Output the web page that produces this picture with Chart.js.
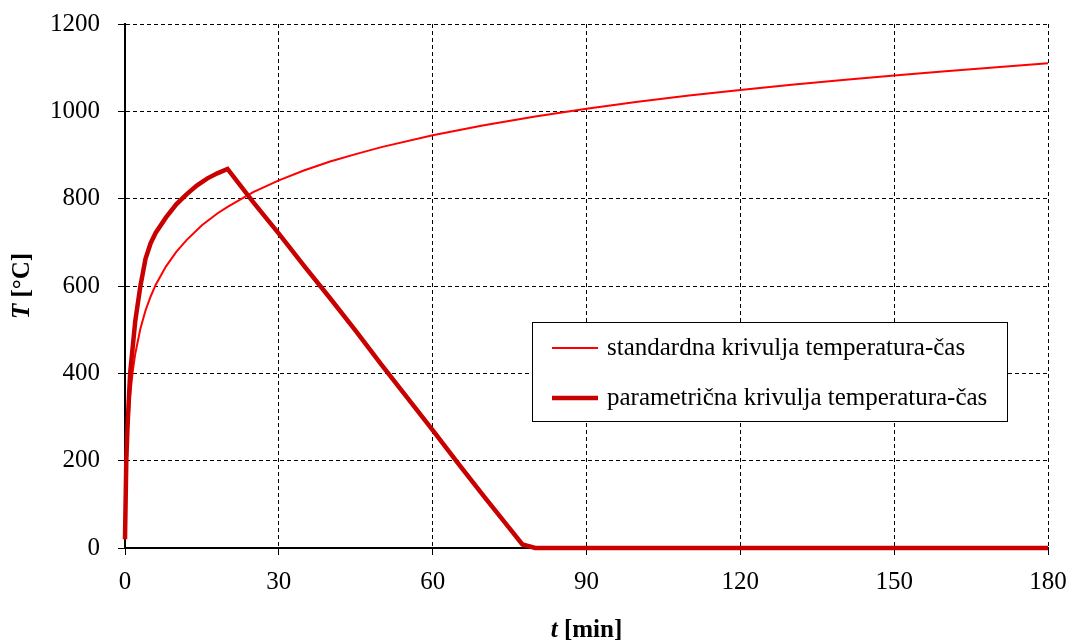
<!DOCTYPE html>
<html>
<head>
<meta charset="utf-8">
<script src="https://cdn.jsdelivr.net/npm/chart.js@4/dist/chart.umd.min.js"></script>
<style>
  html, body { margin: 0; padding: 0; background: #fff; }
  #wrap { width: 1069px; height: 643px; }
</style>
</head>
<body>
<div id="wrap"><canvas id="fireCurves"></canvas></div>
<script>
// standard fire curve (time in min, temperature in °C)
const stdTime = [0, 0.5, 1, 1.5, 2, 3, 4, 5, 6, 8, 10, 12, 15, 18, 20, 25, 30, 35, 40, 45, 50,
                 60, 70, 80, 90, 100, 110, 120, 130, 140, 150, 160, 170, 180];
const stdTemp = [20, 261, 349, 404, 445, 502, 544, 576, 603, 645, 678, 705, 739, 766, 781, 815, 842, 865, 885, 902, 918,
                 945, 968, 988, 1006, 1022, 1036, 1049, 1061, 1072, 1082, 1092, 1101, 1110];

// parametric fire curve
const parTime = [0, 0.25, 0.5, 1, 2, 3, 4, 5, 6, 8, 10, 12, 14, 16, 18, 20,
                 25, 30, 35, 40, 45, 50, 55, 60, 65, 70, 75, 77.5, 80, 180];
const parTemp = [20, 200, 280, 400, 520, 600, 662, 698, 722, 757, 787, 810, 830, 846, 858, 868,
                 792, 720, 645, 572, 497, 420, 345, 270, 193, 118, 45, 8, 0, 0];

const labels = ['standardna krivulja temperatura-čas', 'parametrična krivulja temperatura-čas'];
const xTicks = [0, 30, 60, 90, 120, 150, 180];
const yTicks = [0, 200, 400, 600, 800, 1000, 1200];

const toPoints = (xs, ys) => xs.map((x, i) => ({ x: x, y: ys[i] }));

const serif = '"Liberation Serif", "Times New Roman", serif';

// keep the plot box fixed: no extra room for overhanging tick labels
const noOverhang = (scale) => {
  scale.paddingTop = 0;
  scale.paddingBottom = 0;
  scale.paddingLeft = 0;
  scale.paddingRight = 0;
};

// axis titles with an italic variable symbol
const axisTitles = {
  id: 'axisTitles',
  afterDraw(chart) {
    const { ctx, chartArea } = chart;
    const part = (sym, rest, cx, cy, rot) => {
      ctx.save();
      ctx.translate(cx, cy);
      ctx.rotate(rot);
      ctx.fillStyle = '#000';
      ctx.textBaseline = 'middle';
      ctx.textAlign = 'left';
      ctx.font = 'italic bold 25px ' + serif;
      const w1 = ctx.measureText(sym).width;
      ctx.font = 'bold 25px ' + serif;
      const w2 = ctx.measureText(rest).width;
      const x = -(w1 + w2) / 2;
      ctx.font = 'italic bold 25px ' + serif;
      ctx.fillText(sym, x, 0);
      ctx.font = 'bold 25px ' + serif;
      ctx.fillText(rest, x + w1, 0);
      ctx.restore();
    };
    part('T', ' [°C]', 23, (chartArea.top + chartArea.bottom) / 2, -Math.PI / 2);
    part('t', ' [min]', (chartArea.left + chartArea.right) / 2, 631, 0);
  }
};

// boxed legend inside the plot
const boxLegend = {
  id: 'boxLegend',
  afterDraw(chart) {
    const { ctx } = chart;
    const bx = 532, by = 322, bw = 475, bh = 99;
    ctx.save();
    ctx.fillStyle = '#fff';
    ctx.fillRect(bx, by, bw, bh);
    ctx.strokeStyle = '#000';
    ctx.lineWidth = 1;
    ctx.strokeRect(bx + 0.5, by + 0.5, bw, bh);
    ctx.font = '25px ' + serif;
    ctx.textBaseline = 'middle';
    ctx.fillStyle = '#000';
    const rows = [348, 398];
    chart.data.datasets.forEach((ds, i) => {
      const y = rows[i];
      ctx.strokeStyle = ds.borderColor;
      ctx.lineWidth = ds.borderWidth;
      ctx.beginPath();
      ctx.moveTo(552, y);
      ctx.lineTo(598, y);
      ctx.stroke();
      ctx.fillText(ds.label, 607, y);
    });
    ctx.restore();
  }
};

new Chart(document.getElementById('fireCurves'), {
  type: 'line',
  data: {
    datasets: [
      {
        label: labels[0],
        data: toPoints(stdTime, stdTemp),
        borderColor: '#ff0000',
        borderWidth: 2,
        pointRadius: 0,
        tension: 0,
        order: 1,
        clip: 6
      },
      {
        label: labels[1],
        data: toPoints(parTime, parTemp),
        borderColor: '#c80000',
        borderWidth: 4.5,
        pointRadius: 0,
        tension: 0,
        order: 0,
        clip: 6
      }
    ]
  },
  options: {
    responsive: true,
    maintainAspectRatio: false,
    animation: false,
    layout: { padding: { left: 0, top: 24, right: 21, bottom: 0 } },
    plugins: {
      legend: { display: false },
      tooltip: { enabled: false }
    },
    scales: {
      x: {
        type: 'linear',
        min: 0,
        max: 180,
        afterBuildTicks: (scale) => { scale.ticks = xTicks.map(v => ({ value: v })); },
        afterFit: (scale) => { scale.height = 95; noOverhang(scale); },
        ticks: {
          color: '#000',
          padding: 12,
          maxRotation: 0,
          callback: (v) => String(v),
          font: { family: serif, size: 25 }
        },
        grid: { color: '#000', lineWidth: 1, tickLength: 7 },
        border: { display: true, color: '#000', width: 2, dash: [4, 3] }
      },
      y: {
        min: 0,
        max: 1200,
        afterBuildTicks: (scale) => { scale.ticks = yTicks.map(v => ({ value: v })); },
        afterFit: (scale) => { scale.width = 125; noOverhang(scale); },
        ticks: {
          color: '#000',
          padding: 18,
          callback: (v) => String(v),
          font: { family: serif, size: 25 }
        },
        grid: { color: '#000', lineWidth: 1, tickLength: 7 },
        border: { display: true, color: '#000', width: 2, dash: [4, 3] }
      }
    }
  },
  plugins: [axisTitles, boxLegend]
});
</script>
</body>
</html>
